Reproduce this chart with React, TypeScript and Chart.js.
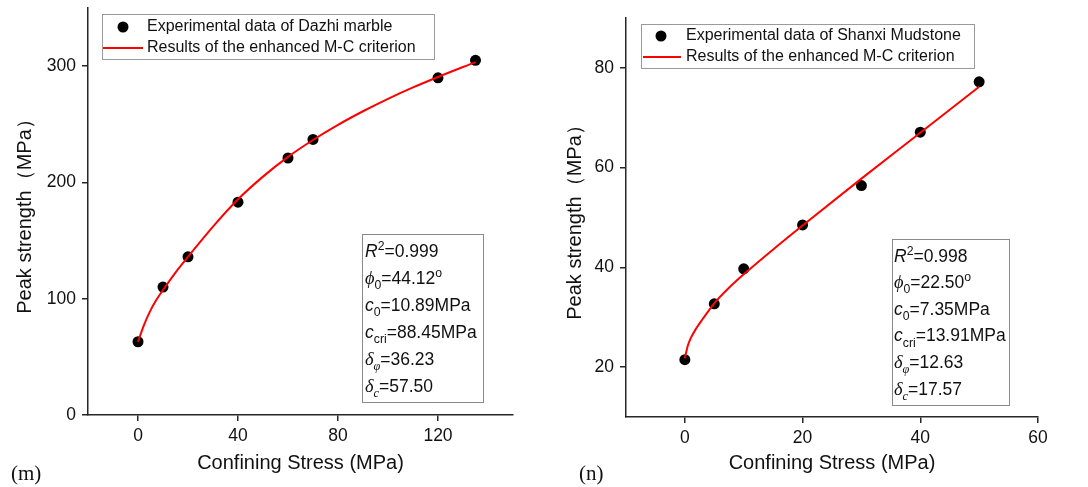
import React, { useEffect, useRef } from 'react';
import { Chart, registerables } from 'chart.js';

Chart.register(...registerables);

// ---------- Data: panel (m) Dazhi marble ----------
const M_CONF = [0, 10, 20, 40, 60, 70, 120, 135];
const M_PEAK = [63, 110, 136, 183, 221, 237, 290, 305];
const M_FIT_CONF = [0, 2.5, 5, 7.5, 10, 15, 20, 30, 40, 50, 60, 70, 80, 90, 100, 110, 120, 135];
const M_FIT_PEAK = [63, 78, 90, 99.5, 107.5, 122.5, 136, 162, 185.5, 205, 222, 236.5, 249.5, 261.2, 271.9, 281.7, 290.7, 303.5];
const M_XTICKS = [0, 40, 80, 120];
const M_YTICKS = [0, 100, 200, 300];
const M_PARAMS = ['0.999', '44.12', '10.89', '88.45', '36.23', '57.50'];
const M_LEGEND = ['Experimental data of Dazhi marble', 'Results of the enhanced M-C criterion'];

// ---------- Data: panel (n) Shanxi mudstone ----------
const N_CONF = [0, 5, 10, 20, 30, 40, 50];
const N_PEAK = [21.5, 32.7, 39.7, 48.5, 56.4, 67.1, 77.2];
const N_FIT_CONF = [0, 0.5, 1, 2, 3, 5, 7.5, 10, 15, 20, 30, 40, 50];
const N_FIT_PEAK = [21.8, 24.3, 25.8, 27.9, 29.6, 32.8, 35.9, 38.6, 43.6, 48.4, 57.8, 67.0, 76.2];
const N_XTICKS = [0, 20, 40, 60];
const N_YTICKS = [20, 40, 60, 80];
const N_PARAMS = ['0.998', '22.50', '7.35', '13.91', '12.63', '17.57'];
const N_LEGEND = ['Experimental data of Shanxi Mudstone', 'Results of the enhanced M-C criterion'];

const X_TITLE = 'Confining Stress (MPa)';
const Y_TITLE = 'Peak strength（MPa）';

const SANS = '"Liberation Sans", Arial, sans-serif';
const SERIF = '"Liberation Serif", "Times New Roman", serif';
const AXIS_COLOR = '#262626';

type Seg = { t: string; f?: 'it' | 'gr'; p?: 'sub' | 'sup' };

const paramLines = (p: string[]): Seg[][] => [
  [{ t: 'R', f: 'it' }, { t: '2', p: 'sup' }, { t: '=' + p[0] }],
  [{ t: 'ϕ', f: 'gr' }, { t: '0', p: 'sub' }, { t: '=' + p[1] }, { t: 'o', p: 'sup' }],
  [{ t: 'c', f: 'it' }, { t: '0', p: 'sub' }, { t: '=' + p[2] + 'MPa' }],
  [{ t: 'c', f: 'it' }, { t: 'cri', p: 'sub' }, { t: '=' + p[3] + 'MPa' }],
  [{ t: 'δ', f: 'gr' }, { t: 'φ', f: 'gr', p: 'sub' }, { t: '=' + p[4] }],
  [{ t: 'δ', f: 'gr' }, { t: 'c', f: 'gr', p: 'sub' }, { t: '=' + p[5] }],
];

function drawRich(ctx: CanvasRenderingContext2D, segs: Seg[], x: number, y: number, size: number) {
  let cx = x;
  for (const s of segs) {
    const sz = s.p ? size * 0.7 : size;
    let font = `${sz}px ${SANS}`;
    if (s.f === 'it') font = `italic ${sz}px ${SANS}`;
    if (s.f === 'gr') font = `italic ${s.p ? sz : sz * 1.05}px ${SERIF}`;
    ctx.font = font;
    const dy = s.p === 'sub' ? size * 0.3 : s.p === 'sup' ? -size * 0.4 : 0;
    ctx.fillText(s.t, cx, y + dy);
    cx += ctx.measureText(s.t).width;
  }
}

type Spec = {
  conf: number[];
  peak: number[];
  fitConf: number[];
  fitPeak: number[];
  xTicks: number[];
  yTicks: number[];
  xMin: number;
  xMax: number;
  yMin: number;
  yMax: number;
  params: string[];
  legend: string[];
  panel: string;
  width: number;
  padTop: number;
  padRight: number;
  yAxisW: number;
  xAxisH: number;
  yTitlePad: number;
  leg: { x: number; y: number; w: number; h: number; mx: number; tx: number; r1: number; r2: number; l1: number; l2: number };
  box: { x: number; y: number; w: number; h: number; tx: number; first: number; gap: number };
  panelX: number;
};

function makeConfig(s: Spec): any {
  const overlay = {
    id: 'overlay',
    afterDraw(chart: any) {
      const ctx: CanvasRenderingContext2D = chart.ctx;
      ctx.save();
      // legend
      const L = s.leg;
      ctx.fillStyle = '#fff';
      ctx.fillRect(L.x, L.y, L.w, L.h);
      ctx.strokeStyle = '#9a9a9a';
      ctx.lineWidth = 1;
      ctx.strokeRect(L.x + 0.5, L.y + 0.5, L.w, L.h);
      ctx.fillStyle = '#000';
      ctx.beginPath();
      ctx.arc(L.x + L.mx, L.y + L.r1, 5.5, 0, Math.PI * 2);
      ctx.fill();
      ctx.strokeStyle = '#ff0000';
      ctx.lineWidth = 2;
      ctx.beginPath();
      ctx.moveTo(L.x + L.l1, L.y + L.r2);
      ctx.lineTo(L.x + L.l2, L.y + L.r2);
      ctx.stroke();
      ctx.fillStyle = '#111';
      ctx.font = `16px ${SANS}`;
      ctx.textBaseline = 'middle';
      ctx.textAlign = 'left';
      ctx.fillText(s.legend[0], L.x + L.tx, L.y + L.r1);
      ctx.fillText(s.legend[1], L.x + L.tx, L.y + L.r2);

      // parameter box
      const B = s.box;
      ctx.fillStyle = '#fff';
      ctx.fillRect(B.x, B.y, B.w, B.h);
      ctx.strokeStyle = '#8a8a8a';
      ctx.lineWidth = 1;
      ctx.strokeRect(B.x + 0.5, B.y + 0.5, B.w, B.h);
      ctx.fillStyle = '#111';
      ctx.textBaseline = 'alphabetic';
      const lines = paramLines(s.params);
      lines.forEach((segs, i) => {
        drawRich(ctx, segs, B.x + B.tx, B.y + B.first + i * B.gap + 6.5, 17.5);
      });

      // panel label
      ctx.fillStyle = '#111';
      ctx.font = `21px ${SERIF}`;
      ctx.textBaseline = 'middle';
      ctx.fillText(s.panel, s.panelX, 474);
      ctx.restore();
    },
  };

  const axisCommon = {
    type: 'linear',
    grid: {
      display: true,
      drawOnChartArea: false,
      drawTicks: true,
      tickLength: 6,
      color: AXIS_COLOR,
      lineWidth: 1.5,
    },
    border: { display: true, color: AXIS_COLOR, width: 1.5 },
  };

  return {
    type: 'scatter',
    data: {
      datasets: [
        {
          label: s.legend[1],
          data: s.fitConf.map((x, i) => ({ x, y: s.fitPeak[i] })),
          showLine: true,
          borderColor: '#ff0000',
          borderWidth: 2,
          pointRadius: 0,
          cubicInterpolationMode: 'monotone',
          fill: false,
        },
        {
          label: s.legend[0],
          data: s.conf.map((x, i) => ({ x, y: s.peak[i] })),
          showLine: false,
          pointRadius: 5.5,
          pointBackgroundColor: '#000',
          pointBorderWidth: 0,
          pointBorderColor: '#000',
        },
      ],
    },
    options: {
      responsive: false,
      animation: false,
      events: [],
      layout: { padding: { top: s.padTop, right: s.padRight, left: 0, bottom: 0 } },
      plugins: { legend: { display: false }, tooltip: { enabled: false } },
      scales: {
        x: {
          ...axisCommon,
          position: 'bottom',
          min: s.xMin,
          max: s.xMax,
          afterBuildTicks: (sc: any) => {
            sc.ticks = s.xTicks.map((v) => ({ value: v }));
          },
          afterFit: (sc: any) => {
            sc.height = s.xAxisH;
            sc.paddingLeft = 0;
            sc.paddingRight = 0;
          },
          ticks: {
            color: '#111',
            font: { size: 17.5, family: SANS },
            padding: 5,
            maxRotation: 0,
            autoSkip: false,
          },
          title: {
            display: true,
            text: X_TITLE,
            color: '#111',
            font: { size: 20, family: SANS },
            padding: { top: 0, bottom: 12 },
          },
        },
        y: {
          ...axisCommon,
          position: 'left',
          min: s.yMin,
          max: s.yMax,
          afterBuildTicks: (sc: any) => {
            sc.ticks = s.yTicks.map((v) => ({ value: v }));
          },
          afterFit: (sc: any) => {
            sc.width = s.yAxisW;
            sc.paddingTop = 0;
            sc.paddingBottom = 0;
          },
          ticks: {
            color: '#111',
            font: { size: 17.5, family: SANS },
            padding: 6,
            autoSkip: false,
          },
          title: {
            display: true,
            text: Y_TITLE,
            color: '#111',
            font: { size: 20, family: SANS },
            padding: { top: s.yTitlePad, bottom: 0 },
          },
        },
      },
    },
    plugins: [overlay],
  };
}

const M_SPEC: Spec = {
  conf: M_CONF,
  peak: M_PEAK,
  fitConf: M_FIT_CONF,
  fitPeak: M_FIT_PEAK,
  xTicks: M_XTICKS,
  yTicks: M_YTICKS,
  xMin: -20,
  xMax: 150,
  yMin: 0,
  yMax: 350,
  params: M_PARAMS,
  legend: M_LEGEND,
  panel: '(m)',
  width: 540,
  padTop: 8,
  padRight: 27,
  yAxisW: 88,
  xAxisH: 72,
  yTitlePad: 13,
  leg: { x: 102, y: 14, w: 332, h: 45, mx: 21, tx: 45, r1: 13, r2: 34, l1: 1, l2: 41 },
  box: { x: 362, y: 234, w: 121, h: 168, tx: 3, first: 16, gap: 27.1 },
  panelX: 11,
};

const N_SPEC: Spec = {
  conf: N_CONF,
  peak: N_PEAK,
  fitConf: N_FIT_CONF,
  fitPeak: N_FIT_PEAK,
  xTicks: N_XTICKS,
  yTicks: N_YTICKS,
  xMin: -10,
  xMax: 60,
  yMin: 10,
  yMax: 90,
  params: N_PARAMS,
  legend: N_LEGEND,
  panel: '(n)',
  width: 548,
  padTop: 18,
  padRight: 50,
  yAxisW: 86,
  xAxisH: 70,
  yTitlePad: 23,
  leg: { x: 101, y: 24, w: 333, h: 44, mx: 20, tx: 45, r1: 12, r2: 33, l1: 2, l2: 40 },
  box: { x: 352, y: 239, w: 117, h: 166, tx: 2, first: 16, gap: 26.6 },
  panelX: 39,
};

function Panel({ spec, left }: { spec: Spec; left: number }) {
  const ref = useRef<HTMLCanvasElement | null>(null);
  useEffect(() => {
    if (!ref.current) return;
    const chart = new Chart(ref.current, makeConfig(spec));
    return () => chart.destroy();
  }, [spec]);
  return (
    <canvas
      ref={ref}
      width={spec.width}
      height={487}
      style={{ position: 'absolute', left, top: 0, width: spec.width, height: 487 }}
    />
  );
}

export default function App() {
  useEffect(() => {
    Chart.defaults.font.family = SANS;
  }, []);
  return (
    <div style={{ position: 'absolute', left: 0, top: 0, width: 1088, height: 487, background: '#fff', overflow: 'hidden' }}>
      <Panel spec={M_SPEC} left={0} />
      <Panel spec={N_SPEC} left={540} />
    </div>
  );
}
